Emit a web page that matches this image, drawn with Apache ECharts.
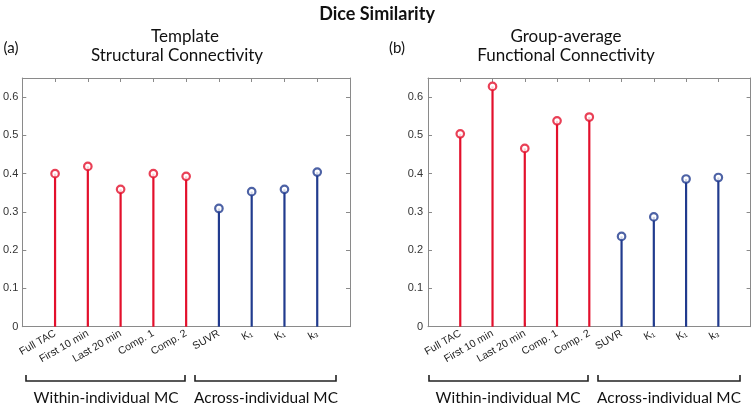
<!DOCTYPE html>
<html>
<head>
<meta charset="utf-8">
<script src="https://cdn.jsdelivr.net/npm/echarts@6/dist/echarts.min.js"></script>
<style>
  html, body { margin: 0; padding: 0; background: #fff; }
  #chart { width: 754px; height: 407px; }
</style>
</head>
<body>
<div id="chart"></div>
<script>
const categories = ["Full TAC", "First 10 min", "Last 20 min", "Comp. 1", "Comp. 2", "SUVR", "K₁", "K₁", "k₃"];
const groups = ["within", "within", "within", "within", "within", "across", "across", "across", "across"];
const structural = [0.400, 0.419, 0.359, 0.400, 0.393, 0.309, 0.353, 0.359, 0.404];
const functional = [0.504, 0.628, 0.466, 0.538, 0.548, 0.236, 0.287, 0.386, 0.390];
const yTicks = [0, 0.1, 0.2, 0.3, 0.4, 0.5, 0.6];

const groupColor = { within: "#e3102c", across: "#213b8e" };
const labelFont = "Liberation Sans, DejaVu Sans, sans-serif";
const titleFont = "Lato, Noto Sans, sans-serif";

const chart = echarts.init(document.getElementById("chart"), null, { renderer: "canvas" });

const grids = [
  { left: 21, top: 78, width: 329, height: 248.7 },
  { left: 428, top: 78, width: 322.6, height: 248.7 }
];

function xAxes(gi) {
  const base = {
    type: "value", gridIndex: gi, min: 0, max: 10, interval: 1,
    axisLine: { show: true, onZero: false, lineStyle: { color: "#8a8a8a", width: 1 } },
    axisTick: { show: true, inside: true, length: 4, lineStyle: { color: "#8a8a8a" } },
    splitLine: { show: false }
  };
  return [
    Object.assign({}, base, {
      position: "bottom",
      axisLabel: {
        rotate: 30, margin: 6, fontSize: 10.5, color: "#222", fontFamily: labelFont,
        formatter: (v) => categories[v - 1] || ""
      }
    }),
    Object.assign({}, base, { position: "top", axisLabel: { show: false } })
  ];
}

function yAxes(gi, margin) {
  const base = {
    type: "value", gridIndex: gi, min: 0, max: 0.65, interval: 0.1,
    axisLine: { show: true, onZero: false, lineStyle: { color: "#8a8a8a", width: 1 } },
    axisTick: { show: true, inside: true, length: 4, lineStyle: { color: "#8a8a8a" } },
    splitLine: { show: false }
  };
  return [
    Object.assign({}, base, {
      position: "left",
      axisLabel: {
        margin: margin, fontSize: 11, color: "#333", fontFamily: labelFont, showMaxLabel: false,
        formatter: (v) => {
          const t = yTicks.find((y) => Math.abs(y - v) < 1e-6);
          return t === undefined ? "" : String(t);
        }
      }
    }),
    Object.assign({}, base, { position: "right", axisLabel: { show: false } })
  ];
}

function stemSeries(values, gi) {
  const items = values.map((v, i) => ({
    value: [i + 1, v],
    itemStyle: { color: groupColor[groups[i]] }
  }));
  return [
    {
      type: "bar", xAxisIndex: gi * 2, yAxisIndex: gi * 2, barWidth: 2.2,
      data: items, silent: true
    },
    {
      type: "scatter", xAxisIndex: gi * 2, yAxisIndex: gi * 2, symbol: "circle", symbolSize: 7.5,
      data: values.map((v, i) => ({
        value: [i + 1, v],
        itemStyle: { color: "#fff", borderColor: groupColor[groups[i]], borderWidth: 2.2 }
      })),
      z: 5, silent: true
    }
  ];
}

function bracket(x1, x2, y) {
  return {
    type: "polyline",
    shape: { points: [[x1, y - 6], [x1, y], [x2, y], [x2, y - 6]] },
    style: { stroke: "#222", lineWidth: 1.6, fill: null }
  };
}

function text(str, x, y, size, weight) {
  return {
    type: "text", x: x, y: y,
    style: {
      text: str, fill: "#111", font: (weight || "normal") + " " + size + "px " + titleFont,
      align: "center", verticalAlign: "middle"
    }
  };
}

const option = {
  backgroundColor: "#fff",
  animation: false,
  grid: grids,
  xAxis: xAxes(0).concat(xAxes(1)),
  yAxis: yAxes(0, 4).concat(yAxes(1, 5)),
  series: stemSeries(structural, 0).concat(stemSeries(functional, 1)),
  graphic: [
    text("Dice Similarity", 377, 14, 18, "bold"),
    text("Template", 185, 37, 17),
    text("Structural Connectivity", 177, 56, 17),
    text("(a)", 11, 48, 15),
    text("Group-average", 566, 37, 17),
    text("Functional Connectivity", 566, 56, 17),
    text("(b)", 397, 48, 15),
    bracket(26, 185, 381),
    bracket(195, 336, 381),
    bracket(429, 588, 381),
    bracket(598, 740, 381),
    text("Within-individual MC", 106, 398, 15.4),
    text("Across-individual MC", 266, 398, 15.4),
    text("Within-individual MC", 508, 398, 15.4),
    text("Across-individual MC", 669, 398, 15.4)
  ]
};

chart.setOption(option);
</script>
</body>
</html>
